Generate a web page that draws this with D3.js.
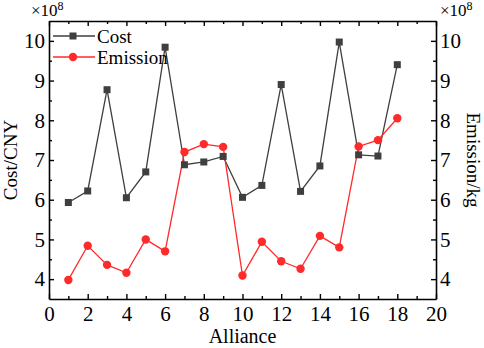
<!DOCTYPE html>
<html>
<head>
<meta charset="utf-8">
<script src="https://cdn.jsdelivr.net/npm/d3@7"></script>
<style>
  body { margin: 0; background: #fff; }
  svg { display: block; }
  svg text { font-family: "Liberation Serif", "Times New Roman", serif; fill: #000; }
</style>
</head>
<body>
<svg id="chart" width="484" height="348"></svg>
<script>
// values in units of 1e8
const alliance = d3.range(1, 19);
const cost = [5.93, 6.22, 8.77, 6.05, 6.70, 9.84, 6.88, 6.95, 7.09, 6.06, 6.36, 8.90, 6.21, 6.85, 9.97, 7.13, 7.10, 9.40];
const emission = [3.98, 4.84, 4.36, 4.16, 5.00, 4.70, 7.20, 7.40, 7.33, 4.09, 4.94, 4.45, 4.26, 5.09, 4.80, 7.34, 7.50, 8.05];
const xTicks = d3.range(0, 21, 2);
const yTicks = [4, 5, 6, 7, 8, 9, 10];

const W = 484, H = 348;
const margin = {top: 21, right: 48, bottom: 49, left: 49};
const svg = d3.select("#chart");

const x = d3.scaleLinear().domain([0, 20]).range([margin.left, W - margin.right]);
const yL = d3.scaleLinear().domain([3.5, 10.5]).range([H - margin.bottom, margin.top]);
const yR = d3.scaleLinear().domain([3.5, 10.5]).range([H - margin.bottom, margin.top]);

const costColor = "#3f3f3f";
const emColor = "#ff2a2a";
const serif = "'Liberation Serif', 'Times New Roman', serif";

const minorX = d3.range(1, 20, 2);
const minorY = d3.range(4.5, 10.5, 1);
const fmt = d3.format("d");

function minorStyle(g) {
  g.select(".domain").remove();
  g.selectAll(".tick line").attr("stroke", "#000").attr("stroke-width", 1.4);
}
function axisStyle(g) {
  g.attr("font-family", serif).attr("font-size", 21);
  g.select(".domain").attr("stroke", "#000").attr("stroke-width", 1.6);
  g.selectAll(".tick line").attr("stroke", "#000").attr("stroke-width", 1.4);
  g.selectAll(".tick text").attr("fill", "#000")
    .style("font-family", serif).style("font-size", "21px");
}

// bottom axis
svg.append("g").attr("transform", `translate(0,${H - margin.bottom})`)
  .call(d3.axisBottom(x).tickValues(minorX).tickSize(-3).tickFormat(""))
  .call(minorStyle);
svg.append("g").attr("transform", `translate(0,${H - margin.bottom})`)
  .call(d3.axisBottom(x).tickValues(xTicks).tickSize(-5).tickSizeOuter(0).tickPadding(5).tickFormat(fmt))
  .call(axisStyle)
  .call(g => g.selectAll(".tick text").attr("dy", "0.82em"));

// top axis
svg.append("g").attr("transform", `translate(0,${margin.top})`)
  .call(d3.axisTop(x).tickValues(minorX).tickSize(-3).tickFormat(""))
  .call(minorStyle);
svg.append("g").attr("transform", `translate(0,${margin.top})`)
  .call(d3.axisTop(x).tickValues(xTicks).tickSize(-5).tickSizeOuter(0).tickFormat(""))
  .call(axisStyle);

// left axis
svg.append("g").attr("transform", `translate(${margin.left},0)`)
  .call(d3.axisLeft(yL).tickValues(minorY).tickSize(-3).tickFormat(""))
  .call(minorStyle);
svg.append("g").attr("transform", `translate(${margin.left},0)`)
  .call(d3.axisLeft(yL).tickValues(yTicks).tickSize(-5).tickSizeOuter(0).tickPadding(4).tickFormat(fmt))
  .call(axisStyle);

// right axis
svg.append("g").attr("transform", `translate(${W - margin.right},0)`)
  .call(d3.axisRight(yR).tickValues(minorY).tickSize(-3).tickFormat(""))
  .call(minorStyle);
svg.append("g").attr("transform", `translate(${W - margin.right},0)`)
  .call(d3.axisRight(yR).tickValues(yTicks).tickSize(-5).tickSizeOuter(0).tickPadding(4).tickFormat(fmt))
  .call(axisStyle);

// series
const costData = alliance.map((a, i) => ({a, v: cost[i]}));
const emData = alliance.map((a, i) => ({a, v: emission[i]}));

svg.append("path").datum(costData)
  .attr("fill", "none").attr("stroke", costColor).attr("stroke-width", 1.3)
  .attr("d", d3.line().x(d => x(d.a)).y(d => yL(d.v)));
svg.append("path").datum(emData)
  .attr("fill", "none").attr("stroke", emColor).attr("stroke-width", 1.3)
  .attr("d", d3.line().x(d => x(d.a)).y(d => yR(d.v)));

svg.selectAll(".sq").data(costData).join("rect")
  .attr("x", d => x(d.a) - 3.5).attr("y", d => yL(d.v) - 3.5)
  .attr("width", 7).attr("height", 7).attr("fill", costColor);
svg.selectAll(".ci").data(emData).join("circle")
  .attr("cx", d => x(d.a)).attr("cy", d => yR(d.v)).attr("r", 4.2).attr("fill", emColor);

// legend
const leg = svg.append("g");
leg.append("line").attr("x1", 53).attr("x2", 95).attr("y1", 36).attr("y2", 36)
  .attr("stroke", costColor).attr("stroke-width", 1.3);
leg.append("rect").attr("x", 73 - 3.5).attr("y", 36 - 3.5).attr("width", 7).attr("height", 7).attr("fill", costColor);
leg.append("text").attr("x", 97).attr("y", 36).attr("dy", "0.35em").style("font-size", "19px").text("Cost");
leg.append("line").attr("x1", 53).attr("x2", 95).attr("y1", 57).attr("y2", 57)
  .attr("stroke", emColor).attr("stroke-width", 1.3);
leg.append("circle").attr("cx", 73).attr("cy", 57).attr("r", 4.2).attr("fill", emColor);
leg.append("text").attr("x", 97).attr("y", 57).attr("dy", "0.35em").style("font-size", "19px").text("Emission");

// axis titles
svg.append("text").attr("x", (margin.left + W - margin.right) / 2).attr("y", 343)
  .attr("text-anchor", "middle").style("font-size", "20px").text("Alliance");
svg.append("text").attr("transform", `translate(17,${(margin.top + H - margin.bottom) / 2}) rotate(-90)`)
  .attr("text-anchor", "middle").style("font-size", "19px").text("Cost/CNY");
svg.append("text").attr("transform", `translate(467,${(margin.top + H - margin.bottom) / 2}) rotate(90)`)
  .attr("text-anchor", "middle").style("font-size", "19px").text("Emission/kg");

// multipliers
function mult(xPos) {
  const t = svg.append("text").attr("x", xPos).attr("y", 16).style("font-size", "17px");
  t.append("tspan").text("×10");
  t.append("tspan").attr("dy", -6).style("font-size", "12px").text("8");
}
mult(31);
mult(440);
</script>
</body>
</html>
